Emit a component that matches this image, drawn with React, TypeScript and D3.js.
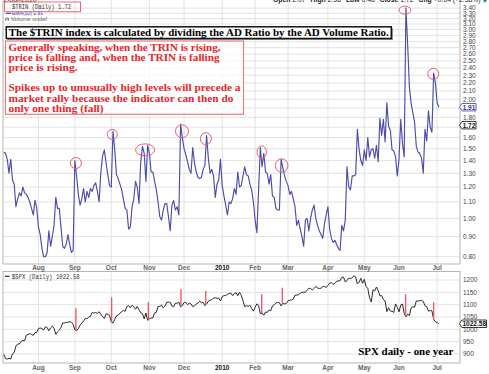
import { useEffect, useRef } from 'react';
import * as d3 from 'd3';

// $TRIN daily closes, one array per month (trading days, Jul 6 2009 - Jul 2 2010)
const trinJul09 = [1.47, 1.46, 1.41, 1.3, 1.41, 1.25, 1.22, 1.07, 1.12, 1.16, 1.14, 1.2, 1.16, 1.15, 1.13, 1.1, 1.06, 1.02, 1.11, 1.06];
const trinAug09 = [0.95, 0.91, 0.84, 0.8, 0.8, 0.82, 0.93, 0.85, 0.9, 0.96, 1.13, 1.06, 1.06, 0.95, 0.85, 0.84, 0.86, 0.91, 0.86, 0.82, 0.83];
const trinSep09 = [1.4, 1.28, 1.15, 1.08, 1.12, 1.19, 1.1, 1.17, 1.13, 1.19, 1.17, 1.21, 1.23, 1.17, 1.1, 1.31, 1.44, 1.49, 1.38, 1.29, 1.21];
const trinOct09 = [1.2, 1.66, 1.49, 1.29, 1.26, 1.22, 1.18, 1.12, 1.06, 1.05, 0.94, 0.95, 1.07, 1.12, 1.24, 1.2, 1.09, 1.39, 1.52, 1.46, 1.24, 1.53];
const trinNov09 = [1.46, 1.31, 1.31, 1.24, 1.18, 1.1, 1.01, 0.99, 1.05, 1.09, 1.09, 1.01, 0.93, 1.08, 1.11, 1.05, 1.07, 1.02, 1.73, 1.6];
const trinDec09 = [1.5, 1.45, 1.39, 1.33, 1.3, 1.51, 1.38, 1.31, 1.27, 1.26, 1.27, 1.33, 1.36, 1.62, 1.42, 1.3, 1.33, 1.28, 1.13, 1.22, 1.25, 1.41];
const trinJan10 = [1.21, 1.14, 1.08, 1.02, 1.1, 1.09, 1.12, 1.19, 1.15, 1.31, 1.2, 1.21, 1.28, 1.35, 1.29, 1.28, 1.22, 1.18, 1.1];
const trinFeb10 = [0.99, 0.92, 1.18, 1.51, 1.35, 1.46, 1.31, 1.3, 1.22, 1.29, 1.14, 1.13, 1.06, 1.05, 1.05, 1.41, 1.34, 1.28, 1.24];
const trinMar10 = [1.21, 1.15, 1.17, 1.12, 1.07, 0.96, 0.99, 0.94, 0.9, 0.85, 0.99, 1.0, 0.93, 1.0, 1.05, 1.08, 1.0, 0.96, 0.93, 0.91, 0.89, 0.97, 1.02];
const trinApr10 = [1.07, 0.94, 0.89, 0.87, 0.88, 0.86, 0.84, 0.83, 0.96, 0.93, 0.99, 1.35, 1.2, 1.18, 1.28, 1.28, 1.29, 1.68, 1.49, 1.4, 1.36];
const trinMay10 = [1.49, 1.4, 1.6, 1.43, 1.49, 1.5, 1.42, 1.53, 1.39, 1.79, 1.62, 1.78, 1.56, 1.96, 1.71, 1.67, 1.49, 1.48, 1.43, 1.28];
const trinJun10 = [1.41, 1.78, 1.55, 1.43, 3.4, 2.75, 2.15, 1.95, 1.85, 1.75, 1.52, 1.47, 1.46, 1.42, 1.3, 1.68, 1.57, 1.87, 1.7, 1.65, 2.33, 2.2];
const trinJul10 = [1.96, 1.91];

// $SPX daily closes, same trading days
const spxJul09 = [898.72, 881.03, 879.56, 882.68, 879.13, 901.05, 905.84, 932.68, 940.74, 940.38, 951.13, 954.58, 954.07, 976.29, 979.26, 982.18, 979.62, 975.15, 986.75, 987.48];
const spxAug09 = [1002.63, 1005.65, 1002.72, 997.08, 1010.48, 1007.1, 994.35, 1005.81, 1012.73, 1004.09, 979.73, 989.67, 996.46, 1007.37, 1026.13, 1025.57, 1028.0, 1028.12, 1030.98, 1028.93, 1020.62];
const spxSep09 = [998.04, 994.75, 1003.24, 1016.4, 1025.39, 1033.37, 1044.14, 1042.73, 1049.34, 1052.63, 1068.76, 1065.49, 1068.3, 1064.66, 1071.66, 1060.87, 1050.78, 1044.38, 1062.98, 1060.61, 1057.08];
const spxOct09 = [1029.85, 1025.21, 1040.46, 1054.72, 1057.58, 1065.48, 1071.49, 1076.19, 1073.19, 1092.02, 1096.56, 1087.68, 1097.91, 1091.06, 1081.4, 1092.91, 1079.6, 1066.95, 1063.41, 1042.63, 1066.11, 1036.19];
const spxNov09 = [1042.88, 1045.41, 1046.5, 1066.63, 1069.3, 1093.08, 1093.01, 1098.51, 1087.24, 1093.48, 1109.3, 1110.32, 1109.8, 1094.9, 1091.38, 1106.24, 1105.65, 1110.63, 1091.49, 1095.63];
const spxDec09 = [1108.86, 1109.24, 1099.92, 1105.98, 1103.25, 1091.94, 1095.95, 1102.35, 1106.41, 1114.11, 1107.93, 1109.18, 1096.08, 1102.47, 1114.05, 1118.02, 1120.59, 1126.48, 1127.78, 1126.2, 1126.42, 1115.1];
const spxJan10 = [1132.99, 1136.52, 1137.14, 1141.69, 1144.98, 1146.98, 1136.22, 1145.68, 1148.46, 1136.03, 1150.23, 1138.04, 1116.48, 1091.76, 1096.78, 1092.17, 1097.5, 1084.53, 1073.87];
const spxFeb10 = [1089.19, 1103.32, 1097.28, 1063.11, 1066.19, 1056.74, 1070.52, 1068.13, 1078.47, 1075.51, 1094.87, 1099.51, 1106.75, 1109.17, 1108.01, 1094.6, 1105.24, 1102.94, 1104.49];
const spxMar10 = [1115.71, 1118.31, 1118.79, 1122.97, 1138.7, 1138.5, 1140.45, 1145.61, 1150.24, 1149.99, 1150.51, 1159.46, 1166.21, 1165.83, 1159.9, 1165.81, 1174.17, 1167.72, 1165.73, 1166.59, 1173.22, 1173.27, 1169.43];
const spxApr10 = [1178.1, 1187.44, 1189.44, 1182.45, 1186.44, 1194.37, 1196.48, 1197.3, 1210.65, 1211.67, 1192.13, 1197.52, 1207.17, 1205.94, 1208.67, 1217.28, 1212.05, 1183.71, 1191.36, 1206.78, 1186.69];
const spxMay10 = [1202.26, 1173.6, 1165.87, 1128.15, 1110.88, 1159.73, 1155.79, 1171.67, 1157.44, 1135.68, 1136.94, 1120.8, 1115.05, 1071.59, 1087.69, 1073.65, 1074.03, 1067.95, 1103.06, 1089.41];
const spxJun10 = [1070.71, 1098.38, 1102.83, 1064.88, 1050.47, 1062.0, 1055.69, 1086.84, 1091.6, 1089.63, 1115.23, 1114.61, 1116.04, 1117.51, 1113.2, 1095.31, 1092.04, 1073.69, 1076.76, 1074.57, 1041.24, 1030.71];
const spxJul10 = [1027.37, 1022.58];

// month labels for the gridlines (first month has no gridline)
const monthLabels = ['Aug', 'Sep', 'Oct', 'Nov', 'Dec', '2010', 'Feb', 'Mar', 'Apr', 'May', 'Jun', 'Jul'];

const trinTicks = [0.8, 0.9, 1.0, 1.1, 1.2, 1.3, 1.4, 1.5, 1.6, 1.7, 1.8, 1.9, 2.0, 2.1, 2.2, 2.3, 2.4, 2.5, 2.6, 2.7, 2.8, 2.9, 3.0, 3.1, 3.2, 3.3, 3.4];
const spxTicks = [900, 950, 1000, 1050, 1100, 1150, 1200];

// hand-drawn marks: circled TRIN spikes and the matching lines on the SPX
const circleDays = [41.6, 62.6, 81.5, 102.8, 116.6, 148.8, 160.3, 231.4, 247.8];
const circleTrin = [1.38, 1.63, 1.49, 1.66, 1.59, 1.47, 1.36, 3.36, 2.32];
const circleRx = [5.5, 5, 9.5, 6.5, 5.5, 4.7, 6.3, 6, 5.5];
const circleRy = [5.5, 5, 6, 6.5, 6, 6.3, 6.7, 4, 5.5];
const markDays = [41.6, 62.2, 83.4, 102.2, 116.5, 148.8, 160.7, 231.8, 248];
const markTops = [1085, 1130, 1110, 1163, 1155, 1142, 1169, 1142, 1110];

const noteLines = [
  'Generally speaking, when the TRIN is rising,',
  'price is falling and, when the TRIN is falling',
  'price is rising.',
  '',
  'Spikes up to unusually high levels will precede a',
  'market rally because the indicator can then do',
  'only one thing (fall)',
];
const noteWidths = [212, 211, 69, 0, 232, 225, 95];

function App() {
  const svgRef = useRef<SVGSVGElement>(null);

  useEffect(() => {
    const trinMonths = [trinJul09, trinAug09, trinSep09, trinOct09, trinNov09, trinDec09, trinJan10, trinFeb10, trinMar10, trinApr10, trinMay10, trinJun10, trinJul10];
    const spxMonths = [spxJul09, spxAug09, spxSep09, spxOct09, spxNov09, spxDec09, spxJan10, spxFeb10, spxMar10, spxApr10, spxMay10, spxJun10, spxJul10];
    const trin = trinMonths.flat();
    const spx = spxMonths.flat();

    let acc = 0;
    const starts = trinMonths.map((m) => {
      const s = acc;
      acc += m.length;
      return s;
    }).slice(1);

    const left = 3;
    const right = 460;
    const top1 = 0, bot1 = 264;
    const top2 = 271.5, bot2 = 363;

    const x = d3.scaleLinear().domain([0, 263.2]).range([3.8, right]);
    const yT = d3.scaleLog().domain([0.8, 3.4]).range([256.7, 8.1]);
    const yS = d3.scaleLinear().domain([900, 1200]).range([354, 280]);

    const svg = d3.select(svgRef.current);
    svg.selectAll('*').remove();

    svg.append('rect').attr('width', 489).attr('height', 374).attr('fill', '#fff');

    const defs = svg.append('defs');
    defs.append('clipPath').attr('id', 'clipTop').append('rect')
      .attr('x', left).attr('y', top1).attr('width', right - left).attr('height', bot1 - top1);
    defs.append('clipPath').attr('id', 'clipBot').append('rect')
      .attr('x', left).attr('y', top2).attr('width', right - left).attr('height', bot2 - top2);

    const grid = '#e3e3e3';
    const border = '#b5b5b5';
    const sans = 'Liberation Sans, Arial, sans-serif';
    const serif = 'Liberation Serif, Times New Roman, serif';
    const mono = 'Liberation Mono, DejaVu Sans Mono, monospace';

    // ---- top panel grid
    const g1 = svg.append('g');
    g1.selectAll('line.h').data(trinTicks).enter().append('line')
      .attr('x1', left).attr('x2', right)
      .attr('y1', (d) => yT(d)).attr('y2', (d) => yT(d))
      .attr('stroke', grid).attr('stroke-width', 1);
    g1.selectAll('line.v').data(starts).enter().append('line')
      .attr('x1', (d) => x(d)).attr('x2', (d) => x(d))
      .attr('y1', top1).attr('y2', bot1)
      .attr('stroke', grid).attr('stroke-width', 1);
    g1.append('path')
      .attr('d', `M${left},${top1}V${bot1}H${right}V${top1}`)
      .attr('fill', 'none').attr('stroke', border).attr('stroke-width', 1);

    // ---- bottom panel grid
    const g2 = svg.append('g');
    g2.selectAll('line.h').data(spxTicks).enter().append('line')
      .attr('x1', left).attr('x2', right)
      .attr('y1', (d) => yS(d)).attr('y2', (d) => yS(d))
      .attr('stroke', grid).attr('stroke-width', 1);
    g2.selectAll('line.v').data(starts).enter().append('line')
      .attr('x1', (d) => x(d)).attr('x2', (d) => x(d))
      .attr('y1', top2).attr('y2', bot2)
      .attr('stroke', grid).attr('stroke-width', 1);
    g2.append('rect')
      .attr('x', left).attr('y', top2).attr('width', right - left).attr('height', bot2 - top2)
      .attr('fill', 'none').attr('stroke', border).attr('stroke-width', 1);

    // ---- series
    const trinLine = d3.line<number>().x((d, i) => x(i)).y((d) => yT(d));
    svg.append('path').datum(trin)
      .attr('clip-path', 'url(#clipTop)')
      .attr('d', trinLine)
      .attr('fill', 'none').attr('stroke', '#4c4cad').attr('stroke-width', 1.15)
      .attr('stroke-linejoin', 'round');

    const spxLine = d3.line<number>().x((d, i) => x(i)).y((d) => yS(d));
    svg.append('path').datum(spx)
      .attr('clip-path', 'url(#clipBot)')
      .attr('d', spxLine)
      .attr('fill', 'none').attr('stroke', '#2a2a2a').attr('stroke-width', 1)
      .attr('stroke-linejoin', 'round');

    // spx value at a fractional day
    const spxAt = (day: number) => {
      const i0 = Math.floor(day);
      const i1 = Math.min(i0 + 1, spx.length - 1);
      return d3.interpolateNumber(spx[i0], spx[i1])(day - i0);
    };

    // ---- spike marks
    svg.append('g').selectAll('line').data(markDays).enter().append('line')
      .attr('x1', (d) => x(d)).attr('x2', (d) => x(d))
      .attr('y1', (d, i) => yS(markTops[i]))
      .attr('y2', (d) => yS(spxAt(d)))
      .attr('stroke', '#ef5a6a').attr('stroke-width', 1.4);

    svg.append('g').selectAll('ellipse').data(circleDays).enter().append('ellipse')
      .attr('cx', (d) => x(d))
      .attr('cy', (d, i) => yT(circleTrin[i]))
      .attr('rx', (d, i) => circleRx[i])
      .attr('ry', (d, i) => circleRy[i])
      .attr('fill', 'none').attr('stroke', '#e8606a').attr('stroke-width', 1);

    // ---- right axis labels
    svg.append('g').selectAll('text').data(trinTicks).enter().append('text')
      .attr('x', 463).attr('y', (d) => yT(d)).attr('dy', '0.35em')
      .style('font-family', sans).style('font-size', '6.5px').style('fill', '#444')
      .text((d) => d.toFixed(2));
    svg.append('g').selectAll('text').data(spxTicks).enter().append('text')
      .attr('x', 463).attr('y', (d) => yS(d)).attr('dy', '0.35em')
      .style('font-family', sans).style('font-size', '6.5px').style('fill', '#444')
      .text((d) => d);

    // last value tags
    const tag = (yv: number, label: string, w: number, color: string) => {
      const h = 7.5;
      const x0 = 459.5;
      svg.append('path')
        .attr('d', `M${x0},${yv}L${x0 + 2.5},${yv - h / 2}H${x0 + w}V${yv + h / 2}H${x0 + 2.5}Z`)
        .attr('fill', '#fff').attr('stroke', color).attr('stroke-width', 0.9);
      svg.append('text')
        .attr('x', x0 + 2.5 + (w - 2.5) / 2).attr('y', yv).attr('dy', '0.36em')
        .attr('text-anchor', 'middle')
        .style('font-family', sans).style('font-size', '6.5px').style('font-weight', 'bold')
        .style('fill', color === '#4c4cad' ? '#33338a' : '#111')
        .text(label);
    };
    tag(yT(trin[trin.length - 1]), trin[trin.length - 1].toFixed(2), 16.5, '#4c4cad');
    tag(yT(1.72), '1.72', 16.5, '#222');
    tag(yS(spx[spx.length - 1]), spx[spx.length - 1].toFixed(2), 27, '#222');

    // ---- month labels
    const monthText = (yBase: number) => {
      svg.append('g').selectAll('text').data(starts).enter().append('text')
        .attr('x', (d) => x(d)).attr('y', yBase)
        .attr('text-anchor', 'middle')
        .style('font-family', sans).style('font-size', '6.5px').style('font-weight', 'bold')
        .style('fill', (d, i) => (monthLabels[i] === '2010' ? '#111' : '#666'))
        .text((d, i) => monthLabels[i]);
    };
    monthText(270.3);
    monthText(369.6);

    // ---- header texts
    svg.append('text').attr('x', 3.5).attr('y', 1.8)
      .style('font-family', sans).style('font-size', '7px').style('fill', '#222')
      .text('2-Jul-2010');

    const hdr = svg.append('text').attr('x', 273).attr('y', 2.4)
      .style('font-family', sans).style('font-size', '6.8px').style('fill', '#222');
    [['Open', '2.07'], ['High', '2.56'], ['Low', '0.48'], ['Close', '1.72'], ['Chg', '+0.04 (+2.38%)']].forEach(([k, v], i) => {
      hdr.append('tspan').attr('dx', i === 0 ? 0 : 5).style('font-weight', 'bold').text(k);
      hdr.append('tspan').attr('dx', 2).text(v);
    });
    svg.append('path').attr('d', 'M483,0L487,0L485,3Z').attr('fill', '#2a9a2a');

    // legend top panel
    svg.append('text').attr('x', 12).attr('y', 8.9)
      .attr('textLength', 59).attr('lengthAdjust', 'spacingAndGlyphs')
      .style('font-family', mono).style('font-size', '7px').style('fill', '#333')
      .text('$TRIN (Daily) 1.72');
    svg.append('line').attr('x1', 6).attr('x2', 11).attr('y1', 13.3).attr('y2', 13.3)
      .attr('stroke', '#3a3ad0').attr('stroke-width', 1.2);
    svg.append('text').attr('x', 12).attr('y', 15)
      .attr('textLength', 31).attr('lengthAdjust', 'spacingAndGlyphs')
      .style('font-family', sans).style('font-size', '5.8px').style('fill', '#3a3ad0')
      .text('EMA(10) 1.91');
    svg.append('path').attr('d', 'M5.5,20.5V18.5M7,20.5V17M8.5,20.5V18')
      .attr('stroke', '#777').attr('stroke-width', 1);
    svg.append('text').attr('x', 11).attr('y', 20.5)
      .attr('textLength', 36).attr('lengthAdjust', 'spacingAndGlyphs')
      .style('font-family', sans).style('font-size', '5.8px').style('fill', '#666')
      .text('Volume undef');
    svg.append('rect').attr('x', 4.5).attr('y', 2).attr('width', 76).attr('height', 9.7)
      .attr('fill', 'none').attr('stroke', '#ec6a72').attr('stroke-width', 1);

    // legend bottom panel
    svg.append('line').attr('x1', 5).attr('x2', 9.5).attr('y1', 276.3).attr('y2', 276.3)
      .attr('stroke', '#222').attr('stroke-width', 1.2);
    svg.append('text').attr('x', 11.7).attr('y', 278.6)
      .attr('textLength', 68).attr('lengthAdjust', 'spacingAndGlyphs')
      .style('font-family', mono).style('font-size', '7px').style('fill', '#333')
      .text('$SPX (Daily) 1022.58');

    // ---- annotation boxes
    svg.append('rect').attr('x', 7.5).attr('y', 28).attr('width', 385.5).attr('height', 12)
      .attr('fill', '#999');
    svg.append('rect').attr('x', 6.3).attr('y', 26.8).attr('width', 385).attr('height', 11.7)
      .attr('fill', '#fff').attr('stroke', '#111').attr('stroke-width', 1.5);
    svg.append('text').attr('x', 8.8).attr('y', 36.4)
      .attr('textLength', 380).attr('lengthAdjust', 'spacingAndGlyphs')
      .style('font-family', serif).style('font-size', '11px').style('font-weight', 'bold').style('fill', '#000')
      .text('The $TRIN index is calculated by dividing the AD Ratio by the AD Volume Ratio.');

    svg.append('rect').attr('x', 5.5).attr('y', 41).attr('width', 238).attr('height', 73.3)
      .attr('fill', '#fff').attr('fill-opacity', 0.75)
      .attr('stroke', '#f07a80').attr('stroke-width', 1.2);
    svg.append('g').selectAll('text').data(noteLines).enter().append('text')
      .filter((d) => d.length > 0)
      .attr('x', 8.5)
      .attr('y', (d) => 51 + noteLines.indexOf(d) * 10.1)
      .attr('textLength', (d) => noteWidths[noteLines.indexOf(d)])
      .attr('lengthAdjust', 'spacingAndGlyphs')
      .style('font-family', serif).style('font-size', '11.3px').style('font-weight', 'bold').style('fill', '#e8262a')
      .text((d) => d);

    svg.append('text').attr('x', 358.3).attr('y', 355.4)
      .attr('textLength', 95).attr('lengthAdjust', 'spacingAndGlyphs')
      .style('font-family', serif).style('font-size', '11px').style('font-weight', 'bold').style('fill', '#000')
      .text('SPX daily - one year');
  }, []);

  return (
    <>
      <style>{'body{margin:0}'}</style>
      <svg ref={svgRef} width={489} height={374} style={{ display: 'block' }} />
    </>
  );
}

export default App;
